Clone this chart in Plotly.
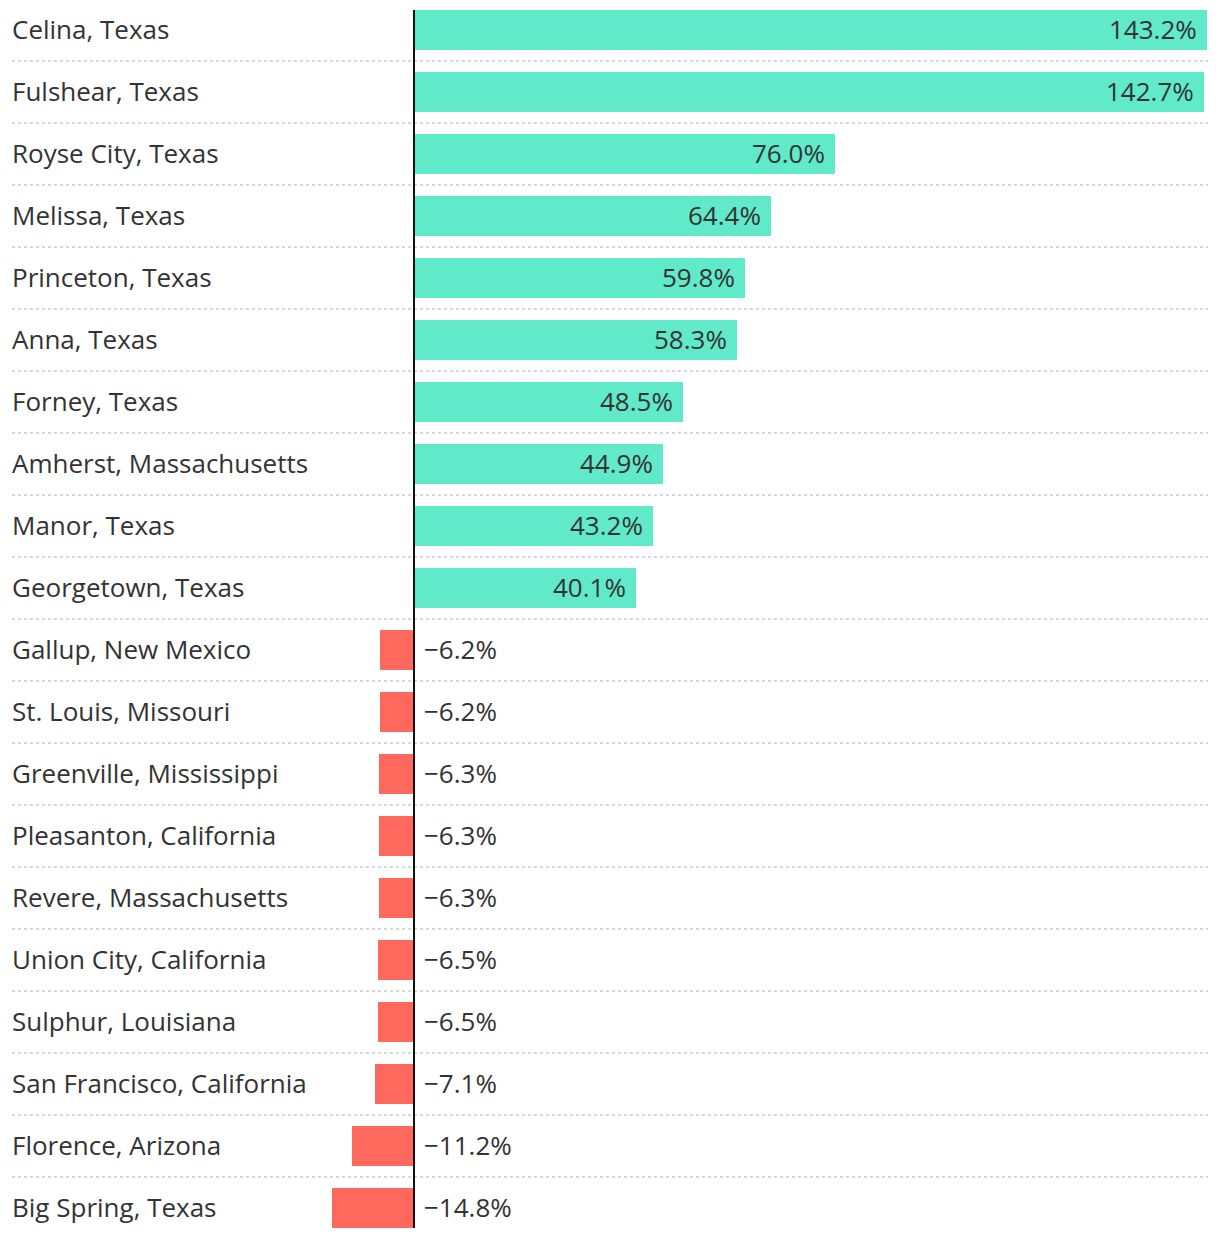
import plotly.graph_objects as go

cities = ["Celina, Texas", "Fulshear, Texas", "Royse City, Texas", "Melissa, Texas",
          "Princeton, Texas", "Anna, Texas", "Forney, Texas", "Amherst, Massachusetts",
          "Manor, Texas", "Georgetown, Texas", "Gallup, New Mexico", "St. Louis, Missouri",
          "Greenville, Mississippi", "Pleasanton, California", "Revere, Massachusetts",
          "Union City, California", "Sulphur, Louisiana", "San Francisco, California",
          "Florence, Arizona", "Big Spring, Texas"]
values = [143.2, 142.7, 76.0, 64.4, 59.8, 58.3, 48.5, 44.9, 43.2, 40.1,
          -6.2, -6.2, -6.3, -6.3, -6.3, -6.5, -6.5, -7.1, -11.2, -14.8]

OFF = 8  # page body margin
W, H = 1220 - 2 * OFF, 1238 - 2 * OFF
POS = "#61EAC9"
NEG = "#FF695D"
TXT = "#333333"
FONT = "Open Sans, sans-serif"
FS = 26

n = len(cities)
idx = list(range(n))
colors = [POS if v >= 0 else NEG for v in values]

zero_px = 414 - OFF
end_px = 1207 - OFF
scale = (end_px - zero_px) / max(values)
xr = [-zero_px / scale, (W - zero_px) / scale]
row = 62
y0c = 30 - OFF
yr = [(H - y0c) / row, -y0c / row]

fig = go.Figure(go.Bar(
    x=values, y=idx, orientation="h", marker=dict(color=colors, line=dict(width=0)),
    width=40 / row, hoverinfo="skip"))

ann = []
shapes = []
for i, (c, v) in enumerate(zip(cities, values)):
    ann.append(dict(x=2 / W, xref="paper", y=i, yref="y", text=c, showarrow=False,
                    xanchor="left", yanchor="middle", yshift=1,
                    font=dict(size=FS, color=TXT, family=FONT)))
    lab = (f"{v:.1f}%" if v >= 0 else f"\u2212{abs(v):.1f}%")
    if v >= 0:
        ann.append(dict(x=v, y=i, text=lab, showarrow=False, xanchor="right", yanchor="middle",
                        xshift=-8, yshift=1, font=dict(size=FS, color=TXT, family=FONT)))
    else:
        ann.append(dict(x=0, y=i, text=lab, showarrow=False, xanchor="left", yanchor="middle",
                        xshift=8, yshift=1, font=dict(size=FS, color=TXT, family=FONT)))
    if i < n - 1:
        shapes.append(dict(type="line", xref="paper", x0=(12 - OFF) / W, x1=(1208 - OFF) / W,
                           y0=i + 0.5, y1=i + 0.5, yref="y",
                           line=dict(color="#CCCCCC", width=1.5, dash="dot"), layer="below"))

shapes.append(dict(type="line", x0=0, x1=0, y0=-20 / row, y1=n - 1 + 20 / row,
                   line=dict(color="#111111", width=2), layer="above"))

fig.update_layout(
    width=W, height=H, margin=dict(l=0, r=0, t=0, b=0),
    paper_bgcolor="white", plot_bgcolor="white", showlegend=False,
    xaxis=dict(range=xr, visible=False, fixedrange=True),
    yaxis=dict(range=yr, visible=False, fixedrange=True),
    annotations=ann, shapes=shapes, bargap=0,
)
fig.write_html("out.html")
